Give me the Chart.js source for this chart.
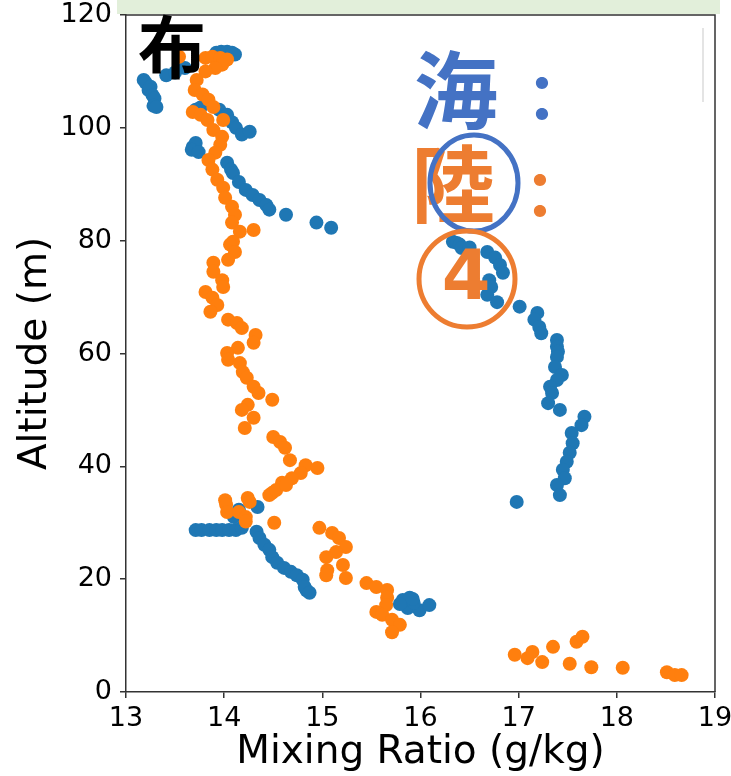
<!DOCTYPE html>
<html>
<head>
<meta charset="utf-8">
<script src="https://cdn.jsdelivr.net/npm/chart.js@4.4.1/dist/chart.umd.min.js"></script>
<style>
    body { margin: 0; background: #fff; }
    canvas { display: block; }
</style>
</head>
<body>
<canvas id="mixingRatioChart" width="731" height="776"></canvas>
<script>
// sea (blue) profile
const seaX = [13.92, 13.97, 14.03, 14.08, 14.11, 13.41, 13.50, 13.60,
    13.18, 13.20, 13.25, 13.23, 13.27, 13.29, 13.28, 13.31,
    13.71, 13.76, 13.95, 14.03, 14.08, 14.12, 14.18, 14.26, 13.68, 13.71, 13.67, 13.74,
    14.03, 14.07, 14.09, 14.15, 14.22, 14.29, 14.36, 14.43, 14.46, 14.63, 14.94, 15.09,
    16.33, 16.37, 16.40, 16.42, 16.50, 16.68, 16.76, 16.81, 16.84, 16.70, 16.72, 16.68, 16.78,
    17.01, 17.19, 17.16, 17.21, 17.23, 17.39, 17.39, 17.40, 17.39, 17.37, 17.44, 17.39,
    17.32, 17.34, 17.30, 17.42, 17.67, 17.64, 17.54, 17.55, 17.52, 17.49, 17.45, 17.47,
    17.39, 17.42, 16.98,
    13.71, 13.77, 13.85, 13.92, 13.98, 14.05, 14.12, 14.18, 14.10, 14.15, 14.34,
    14.33, 14.36, 14.41, 14.46, 14.49, 14.54, 14.61, 14.68, 14.74, 14.80, 14.84, 14.82, 14.87,
    15.82, 15.89, 15.87, 15.99, 16.09, 15.93, 15.79, 15.92];
const seaY = [113.3, 113.5, 113.5, 113.3, 113.0, 109.3, 109.8, 110.6,
    108.5, 108.0, 107.3, 106.7, 105.8, 105.2, 103.9, 103.7,
    103.2, 103.6, 103.2, 102.3, 101.0, 100.0, 98.8, 99.3, 96.6, 97.3, 96.1, 95.7,
    93.8, 92.6, 92.0, 90.4, 89.0, 88.1, 87.2, 86.3, 85.5, 84.6, 83.2, 82.3,
    79.8, 79.6, 79.3, 78.7, 78.8, 78.0, 77.0, 75.7, 74.3, 73.0, 71.8, 70.4, 69.1,
    68.3, 67.2, 66.0, 64.7, 63.6, 62.4, 61.2, 60.3, 59.4, 57.6, 56.2, 55.3,
    54.1, 53.0, 51.2, 50.0, 48.8, 47.3, 45.9, 44.1, 42.4, 40.8, 39.4, 37.9,
    36.7, 34.9, 33.7,
    28.7, 28.7, 28.7, 28.7, 28.7, 28.7, 28.7, 29.1, 31.0, 32.3, 32.8,
    28.4, 27.3, 26.1, 25.2, 23.9, 22.9, 22.0, 21.3, 20.7, 19.9, 18.0, 18.6, 17.6,
    16.3, 16.7, 14.9, 14.5, 15.4, 15.8, 15.6, 16.5];

// land (orange) profile
const landX = [13.54, 13.81, 13.88, 13.96, 14.03, 13.98, 13.91, 13.81, 13.72, 13.70,
    13.78, 13.84, 13.89, 13.68, 13.76, 13.83, 13.99, 13.89, 13.98, 13.96,
    13.91, 13.84, 13.88, 13.93, 13.99, 14.01, 14.08, 14.11, 14.08, 14.16,
    14.30, 14.09, 14.06, 14.11, 14.04, 13.89, 13.89, 13.98, 13.99, 13.81,
    13.88, 13.93, 13.86, 14.04, 14.13, 14.18, 14.32, 14.30, 14.14, 14.03,
    14.04, 14.16, 14.19, 14.23, 14.30, 14.35, 14.49, 14.24, 14.18, 14.30,
    14.21, 14.50, 14.57, 14.62, 14.67, 14.83, 14.95, 14.78, 14.69, 14.59,
    14.49, 14.24, 14.01, 14.46, 14.53, 14.63, 14.02, 14.03, 14.26, 14.15,
    14.22, 14.22, 14.51, 14.97, 15.10, 15.17, 15.24, 15.14, 15.04, 15.21,
    15.05, 15.04, 15.24, 15.45, 15.55, 15.66, 15.66, 15.65, 15.55, 15.61,
    15.71, 15.79, 15.71, 16.96, 17.09, 17.14, 17.24, 17.35, 17.52, 17.59,
    17.65, 17.74, 18.06, 18.51, 18.59, 18.66];
const landY = [112.6, 112.4, 112.6, 112.4, 112.1, 111.2, 110.6, 110.0, 108.5, 106.7,
    105.9, 105.0, 103.7, 102.8, 102.3, 101.4, 101.4, 99.6, 98.4, 97.0,
    95.6, 94.3, 92.6, 90.8, 89.4, 87.6, 86.0, 84.6, 83.2, 81.6,
    81.9, 79.8, 79.3, 78.0, 76.6, 76.1, 74.5, 73.0, 71.8, 70.9,
    69.9, 68.6, 67.4, 66.0, 65.4, 64.5, 63.3, 61.9, 61.0, 60.1,
    58.9, 58.3, 56.7, 55.7, 54.1, 53.0, 51.8, 50.9, 50.0, 48.6,
    46.8, 45.2, 44.3, 43.3, 41.1, 40.2, 39.7, 38.8, 37.9, 37.1,
    35.3, 34.4, 34.0, 34.9, 35.8, 36.7, 33.2, 31.9, 33.7, 31.9,
    31.0, 30.2, 30.0, 29.1, 28.2, 27.3, 25.7, 24.8, 23.9, 22.5,
    21.6, 20.7, 20.2, 19.3, 18.6, 18.1, 16.7, 15.4, 14.2, 13.7,
    12.8, 11.9, 10.6, 6.6, 6.0, 7.1, 5.3, 8.0, 5.0, 8.9,
    9.8, 4.4, 4.3, 3.5, 3.0, 3.0];

const xTicks = [13, 14, 15, 16, 17, 18, 19];
const yTicks = [0, 20, 40, 60, 80, 100, 120];

const SEA_COLOR = "#1f77b4";
const LAND_COLOR = "#ff7f0e";
const AXIS_COLOR = "#333333";

function toPoints(xs, ys) {
    return xs.map(function(x, i) {
        return { x: x, y: ys[i] };
    });
}

// green strip on top, frame, and the annotation texts/circles
const decorPlugin = {
    id: "decor",
    beforeDraw: function(chart) {
        const c = chart.ctx;
        c.save();
        c.fillStyle = "#e2efda";
        c.fillRect(117, 0, 603, 14);
        c.restore();
    },
    afterDraw: function(chart) {
        const c = chart.ctx;
        const area = chart.chartArea;
        c.save();

        // top and right spines
        c.strokeStyle = AXIS_COLOR;
        c.lineWidth = 1.5;
        c.beginPath();
        c.moveTo(area.left, area.top);
        c.lineTo(area.right, area.top);
        c.lineTo(area.right, area.bottom);
        c.stroke();

        // faint line near the top right
        c.strokeStyle = "#e4e4e4";
        c.lineWidth = 2;
        c.beginPath();
        c.moveTo(703, 28);
        c.lineTo(703, 102);
        c.stroke();

        const cjk = "'Noto Sans CJK JP', 'Noto Sans CJK SC', sans-serif";
        c.textAlign = "center";
        c.textBaseline = "middle";

        c.fillStyle = "#000000";
        c.font = "bold 68px " + cjk;
        c.fillText("布", 172, 47);

        c.fillStyle = "#4472c4";
        c.font = "bold 84px " + cjk;
        c.fillText("海", 456, 90);
        c.font = "bold 64px " + cjk;
        c.fillText("：", 542, 98);

        c.fillStyle = "#ed7d31";
        c.font = "bold 84px " + cjk;
        c.fillText("陸", 453, 184);
        c.font = "bold 64px " + cjk;
        c.fillText("：", 540, 195);

        c.lineWidth = 5;
        c.strokeStyle = "#4472c4";
        c.beginPath();
        c.ellipse(474, 183, 44, 48, 0, 0, Math.PI * 2);
        c.stroke();

        c.strokeStyle = "#ed7d31";
        c.beginPath();
        c.ellipse(467, 279, 48, 48, 0, 0, Math.PI * 2);
        c.stroke();

        c.fillStyle = "#ed7d31";
        c.font = "bold 70px 'DejaVu Sans', sans-serif";
        c.fillText("4", 466, 281);

        c.restore();
    }
};

function drawMixingRatioChart() {
    const ctx = document.getElementById("mixingRatioChart");
    Chart.defaults.font.family = "'DejaVu Sans', sans-serif";
    Chart.defaults.color = "#000000";

    new Chart(ctx, {
        type: "scatter",
        data: {
            datasets: [{
                label: "sea",
                data: toPoints(seaX, seaY),
                backgroundColor: SEA_COLOR,
                borderWidth: 0,
                pointRadius: 7,
                order: 1
            }, {
                label: "land",
                data: toPoints(landX, landY),
                backgroundColor: LAND_COLOR,
                borderWidth: 0,
                pointRadius: 7,
                order: 0
            }]
        },
        options: {
            responsive: false,
            animation: false,
            events: [],
            layout: {
                padding: { left: 0, top: 15, right: 16, bottom: 0 }
            },
            plugins: {
                legend: { display: false },
                tooltip: { enabled: false }
            },
            scales: {
                x: {
                    type: "linear",
                    min: 13,
                    max: 19,
                    afterBuildTicks: function(scale) {
                        scale.ticks = xTicks.map(function(v) { return { value: v }; });
                    },
                    afterFit: function(scale) {
                        scale.height = 84;
                        scale.paddingLeft = 0;
                        scale.paddingRight = 0;
                    },
                    ticks: {
                        font: { size: 27 },
                        padding: 5
                    },
                    grid: {
                        drawOnChartArea: false,
                        drawTicks: true,
                        tickLength: 6,
                        color: AXIS_COLOR,
                        lineWidth: 1.5
                    },
                    border: { color: AXIS_COLOR, width: 1.5 },
                    title: {
                        display: true,
                        text: "Mixing Ratio (g/kg)",
                        font: { size: 39 },
                        padding: { top: 0, bottom: 0 }
                    }
                },
                y: {
                    type: "linear",
                    min: 0,
                    max: 120,
                    afterBuildTicks: function(scale) {
                        scale.ticks = yTicks.map(function(v) { return { value: v }; });
                    },
                    afterFit: function(scale) {
                        scale.width = 126;
                        scale.paddingTop = 0;
                        scale.paddingBottom = 0;
                    },
                    ticks: {
                        font: { size: 27 },
                        padding: 8
                    },
                    grid: {
                        drawOnChartArea: false,
                        drawTicks: true,
                        tickLength: 6,
                        color: AXIS_COLOR,
                        lineWidth: 1.5
                    },
                    border: { color: AXIS_COLOR, width: 1.5 },
                    title: {
                        display: true,
                        text: "Altitude (m)",
                        font: { size: 39 },
                        padding: { top: 12, bottom: 0 }
                    }
                }
            }
        },
        plugins: [decorPlugin]
    });
}

drawMixingRatioChart();
</script>
</body>
</html>
